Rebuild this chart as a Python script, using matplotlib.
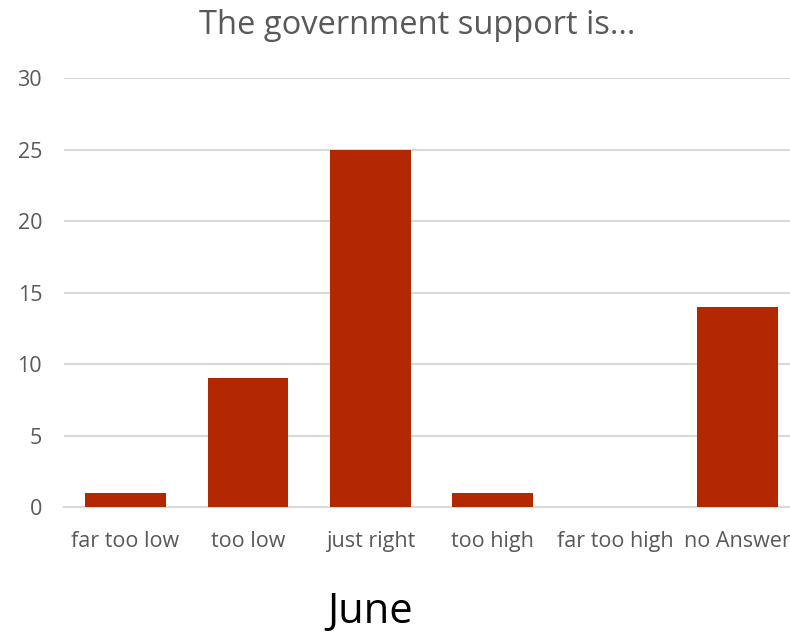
import numpy as np
import matplotlib.pyplot as plt

plt.rcParams['font.family'] = ['Open Sans', 'DejaVu Sans']

categories = ['far too low', 'too low', 'just right', 'too high', 'far too high', 'no Answer']
counts = [1, 9, 25, 1, 0, 14]

bar_color = '#B22800'
text_color = '#595959'
grid_color = '#D9D9D9'

fig = plt.figure(figsize=(7.9, 6.34), dpi=100)
# plot area runs a little past the right edge, like the original
ax = fig.add_axes([64.3 / 790, 1 - 507 / 634, 734.4 / 790, 429 / 634])

index = np.arange(len(categories))
ax.bar(index, counts, 0.66, color=bar_color, zorder=3)

ax.set_xlim(-0.5, len(categories) - 0.5)
ax.set_ylim(0, 30)
ax.set_yticks(range(0, 31, 5))
ax.set_xticks(index)
ax.set_xticklabels(categories)

ax.grid(axis='y', color=grid_color, linewidth=1.5, zorder=0)
for s in ['top', 'right', 'left']:
    ax.spines[s].set_visible(False)
ax.spines['bottom'].set_color(grid_color)
ax.spines['bottom'].set_linewidth(1.5)
ax.tick_params(axis='both', length=0, colors=text_color, labelsize=15.5)
ax.tick_params(axis='y', pad=16)
ax.tick_params(axis='x', pad=17)

fig.text(417 / 790, 1 - 26 / 634, 'The government support is...', ha='center', va='center',
         fontsize=23.5, color=text_color)
fig.text(370 / 790, 1 - 612 / 634, 'June', ha='center', va='center', fontsize=30, color='black')

fig.savefig('out.png', dpi=100)
